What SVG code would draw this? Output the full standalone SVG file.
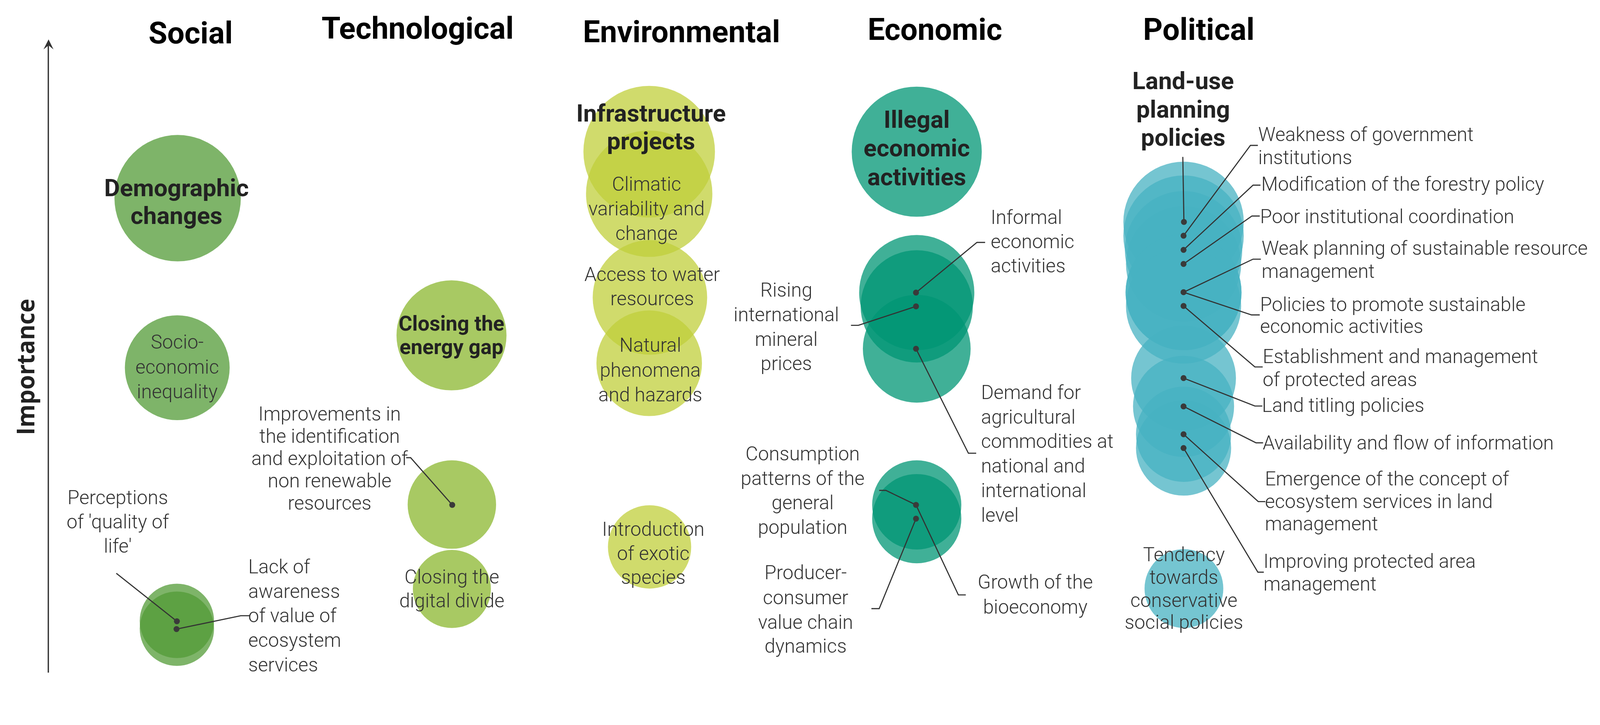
<svg xmlns="http://www.w3.org/2000/svg" width="4308" height="1855" viewBox="0 0 4308 1855">
<style>
.h{font-family:Roboto,"Liberation Sans",sans-serif;font-weight:700;font-size:82px;fill:#000;text-anchor:middle}
.b{font-family:Roboto,"Liberation Sans",sans-serif;font-weight:700;font-size:65px;fill:#222;text-anchor:middle}
.b2{font-size:56px}
.l{font-family:"Roboto Light",Roboto,"Liberation Sans",sans-serif;font-weight:300;font-size:52px;fill:#333}
.m{text-anchor:middle}
.ax{font-family:"Open Sans","DejaVu Sans",sans-serif;font-weight:700;font-size:66px;fill:#222;text-anchor:middle}
.soc{fill:#539b37;fill-opacity:.75}
.tec{fill:#8bb72f;fill-opacity:.75}
.env{fill:#c0cf3b;fill-opacity:.75}
.eco{fill:#009574;fill-opacity:.75}
.pol{fill:#47b2c2;fill-opacity:.75}
.dot{fill:#3a3a3a}
.ln{stroke:#333;stroke-width:3;fill:none}
</style>
<rect width="4308" height="1855" fill="#fff"/>
<g id="diagram" transform="scale(0.9513)">

<g id="axis">
<line x1="130" y1="1809" x2="130" y2="118" stroke="#333" stroke-width="3.5"/>
<path d="M130.7,106 L144,133 L130.7,122 L117,133 Z" fill="#333"/>
<text class="ax" transform="translate(92,987) rotate(-90)" textLength="367" lengthAdjust="spacingAndGlyphs">Importance</text>
</g>

<g id="headings">
<text class="h" x="513" y="117">Social</text>
<text class="h" x="1124" y="104">Technological</text>
<text class="h" x="1834" y="114">Environmental</text>
<text class="h" x="2516" y="107">Economic</text>
<text class="h" x="3226" y="107">Political</text>
</g>

<g id="bubbles">
<circle id="b-demographic" class="soc" cx="478" cy="533" r="170"/>
<circle id="b-socio" class="soc" cx="477" cy="989" r="141"/>
<circle id="b-perceptions" class="soc" cx="476" cy="1670" r="100"/>
<circle id="b-lack" class="soc" cx="476" cy="1691" r="100"/>
<circle id="b-energy" class="tec" cx="1215" cy="902" r="148"/>
<circle id="b-improvements" class="tec" cx="1216" cy="1357" r="119"/>
<circle id="b-digital" class="tec" cx="1216" cy="1584" r="105"/>
<circle id="b-infrastructure" class="env" cx="1747" cy="408" r="177"/>
<circle id="b-climatic" class="env" cx="1747" cy="521" r="170"/>
<circle id="b-access" class="env" cx="1749" cy="800" r="154"/>
<circle id="b-natural" class="env" cx="1747" cy="977" r="142"/>
<circle id="b-exotic" class="env" cx="1748" cy="1471" r="112"/>
<circle id="b-illegal" class="eco" cx="2467" cy="408" r="175"/>
<circle id="b-informal" class="eco" cx="2467" cy="787" r="155"/>
<circle id="b-rising" class="eco" cx="2467" cy="824" r="151"/>
<circle id="b-demand" class="eco" cx="2467" cy="938" r="145"/>
<circle id="b-consumption" class="eco" cx="2467" cy="1358" r="120"/>
<circle id="b-producer" class="eco" cx="2467" cy="1395" r="120"/>
<circle id="b-landuse" class="pol" cx="3185" cy="597" r="162"/>
<circle id="b-weakness" class="pol" cx="3185" cy="634" r="162"/>
<circle id="b-modification" class="pol" cx="3185" cy="672" r="158"/>
<circle id="b-poor" class="pol" cx="3185" cy="710" r="155"/>
<circle id="b-weakplanning" class="pol" cx="3185" cy="786" r="156"/>
<circle id="b-policies" class="pol" cx="3185" cy="786" r="156"/>
<circle id="b-establishment" class="pol" cx="3185" cy="823" r="155"/>
<circle id="b-landtitling" class="pol" cx="3185" cy="1017" r="141"/>
<circle id="b-availability" class="pol" cx="3185" cy="1093" r="136"/>
<circle id="b-emergence" class="pol" cx="3185" cy="1168" r="128"/>
<circle id="b-improving" class="pol" cx="3185" cy="1205" r="128"/>
<circle id="b-tendency" class="pol" cx="3186" cy="1583" r="106"/>
</g>

<g id="connectors">
<polyline class="ln" points="313,1542 476,1671"/>
<polyline class="ln" points="475,1692 648,1656 671,1656"/>
<polyline class="ln" points="1217,1358 1105,1231 1093,1231"/>
<polyline class="ln" points="2465,787 2629,652 2651,652"/>
<polyline class="ln" points="2465,824 2310,875 2290,875"/>
<polyline class="ln" points="2465,938 2606,1219 2627,1219"/>
<polyline class="ln" points="2465,1358 2384,1319 2366,1319"/>
<polyline class="ln" points="2465,1395 2366,1637 2345,1637"/>
<polyline class="ln" points="2465,1358 2579,1600 2599,1600"/>
<polyline class="ln" points="3183,422 3186,597"/>
<polyline class="ln" points="3185,634 3365,391 3385,391"/>
<polyline class="ln" points="3185,672 3372,498 3392,498"/>
<polyline class="ln" points="3185,710 3369,581 3390,581"/>
<polyline class="ln" points="3185,786 3372,697 3393,697"/>
<polyline class="ln" points="3185,786 3368,847 3390,847"/>
<polyline class="ln" points="3185,823 3377,987 3398,987"/>
<polyline class="ln" points="3185,1017 3377,1092 3397,1092"/>
<polyline class="ln" points="3185,1093 3380,1191 3399,1191"/>
<polyline class="ln" points="3185,1168 3386,1349 3405,1349"/>
<polyline class="ln" points="3185,1205 3385,1539 3401,1539"/>
</g>

<g id="nodes">
<g id="n-demographic"><text class="b" x="475" y="528">Demographic</text><text class="b" x="475" y="602">changes</text></g>
<g id="n-socio"><text class="l m" x="477" y="938">Socio-</text><text class="l m" x="477" y="1005">economic</text><text class="l m" x="477" y="1071">inequality</text></g>
<g id="n-perceptions"><circle class="dot" cx="476" cy="1671" r="8"/><text class="l m" x="317" y="1356">Perceptions</text><text class="l m" x="317" y="1421">of 'quality of</text><text class="l m" x="317" y="1486">life'</text></g>
<g id="n-lack"><circle class="dot" cx="475" cy="1692" r="8"/><text class="l" x="668"><tspan x="668" y="1542">Lack of</tspan><tspan x="668" y="1608">awareness</tspan><tspan x="668" y="1674">of value of</tspan><tspan x="668" y="1740">ecosystem</tspan><tspan x="668" y="1806">services</tspan></text></g>

<g id="n-energy"><text class="b b2" x="1215" y="889">Closing the</text><text class="b b2" x="1215" y="952">energy gap</text></g>
<g id="n-improvements"><circle class="dot" cx="1217" cy="1358" r="8"/><text class="l m"><tspan x="887" y="1131">Improvements in</tspan><tspan x="887" y="1191">the identification</tspan><tspan x="887" y="1251">and exploitation of</tspan><tspan x="887" y="1311">non renewable</tspan><tspan x="887" y="1371">resources</tspan></text></g>
<g id="n-digital"><text class="l m"><tspan x="1216" y="1569">Closing the</tspan><tspan x="1216" y="1634">digital divide</tspan></text></g>

<g id="n-infrastructure"><text class="b" x="1752" y="327">Infrastructure</text><text class="b" x="1752" y="402">projects</text></g>
<g id="n-climatic"><text class="l m"><tspan x="1740" y="513">Climatic</tspan><tspan x="1740" y="579">variability and</tspan><tspan x="1740" y="645">change</tspan></text></g>
<g id="n-access"><text class="l m"><tspan x="1755" y="756">Access to water</tspan><tspan x="1755" y="821">resources</tspan></text></g>
<g id="n-natural"><text class="l m"><tspan x="1750" y="946">Natural</tspan><tspan x="1750" y="1013">phenomena</tspan><tspan x="1750" y="1080">and hazards</tspan></text></g>
<g id="n-exotic"><text class="l m"><tspan x="1758" y="1441">Introduction</tspan><tspan x="1758" y="1506">of exotic</tspan><tspan x="1758" y="1571">species</tspan></text></g>

<g id="n-illegal"><text class="b" x="2467" y="344">Illegal</text><text class="b" x="2467" y="421">economic</text><text class="b" x="2467" y="498">activities</text></g>
<g id="n-informal"><circle class="dot" cx="2465" cy="787" r="8"/><text class="l"><tspan x="2666" y="602">Informal</tspan><tspan x="2666" y="667">economic</tspan><tspan x="2666" y="733">activities</tspan></text></g>
<g id="n-rising"><circle class="dot" cx="2465" cy="824" r="8"/><text class="l m"><tspan x="2116" y="798">Rising</tspan><tspan x="2116" y="864">international</tspan><tspan x="2116" y="930">mineral</tspan><tspan x="2116" y="996">prices</tspan></text></g>
<g id="n-demand"><circle class="dot" cx="2465" cy="938" r="8"/><text class="l"><tspan x="2640" y="1073">Demand for</tspan><tspan x="2640" y="1139">agricultural</tspan><tspan x="2640" y="1205">commodities at</tspan><tspan x="2640" y="1271">national and</tspan><tspan x="2640" y="1337">international</tspan><tspan x="2640" y="1403">level</tspan></text></g>
<g id="n-consumption"><circle class="dot" cx="2465" cy="1358" r="8"/><text class="l m"><tspan x="2160" y="1238">Consumption</tspan><tspan x="2160" y="1305">patterns of the</tspan><tspan x="2160" y="1370">general</tspan><tspan x="2160" y="1436">population</tspan></text></g>
<g id="n-producer"><circle class="dot" cx="2465" cy="1395" r="8"/><text class="l m"><tspan x="2168" y="1558">Producer-</tspan><tspan x="2168" y="1625">consumer</tspan><tspan x="2168" y="1691">value chain</tspan><tspan x="2168" y="1755">dynamics</tspan></text></g>
<g id="n-growth"><text class="l m"><tspan x="2786" y="1583">Growth of the</tspan><tspan x="2786" y="1650">bioeconomy</tspan></text></g>

<g id="n-landuse"><circle class="dot" cx="3186" cy="597" r="8"/><text class="b" x="3184" y="240">Land-use</text><text class="b" x="3184" y="316">planning</text><text class="b" x="3184" y="392">policies</text></g>
<g id="n-weakness"><circle class="dot" cx="3185" cy="634" r="8"/><text class="l"><tspan x="3386" y="380">Weakness of government</tspan><tspan x="3386" y="442">institutions</tspan></text></g>
<g id="n-modification"><circle class="dot" cx="3185" cy="672" r="8"/><text class="l" x="3394" y="513">Modification of the forestry policy</text></g>
<g id="n-poor"><circle class="dot" cx="3185" cy="710" r="8"/><text class="l" x="3391" y="600">Poor institutional coordination</text></g>
<g id="n-weakplanning"><circle class="dot" cx="3185" cy="786" r="8"/><text class="l"><tspan x="3395" y="685">Weak planning of sustainable resource</tspan><tspan x="3395" y="747">management</tspan></text></g>
<g id="n-policies"><text class="l"><tspan x="3391" y="837">Policies to promote sustainable</tspan><tspan x="3391" y="896">economic activities</tspan></text></g>
<g id="n-establishment"><circle class="dot" cx="3185" cy="823" r="8"/><text class="l"><tspan x="3398" y="977">Establishment and management</tspan><tspan x="3398" y="1039">of protected areas</tspan></text></g>
<g id="n-landtitling"><circle class="dot" cx="3185" cy="1017" r="8"/><text class="l" x="3396" y="1108">Land titling policies</text></g>
<g id="n-availability"><circle class="dot" cx="3185" cy="1093" r="8"/><text class="l" x="3398" y="1209">Availability and flow of information</text></g>
<g id="n-emergence"><circle class="dot" cx="3185" cy="1168" r="8"/><text class="l"><tspan x="3404" y="1306">Emergence of the concept of</tspan><tspan x="3404" y="1367">ecosystem services in land</tspan><tspan x="3404" y="1426">management</tspan></text></g>
<g id="n-improving"><circle class="dot" cx="3185" cy="1205" r="8"/><text class="l"><tspan x="3400" y="1527">Improving protected area</tspan><tspan x="3400" y="1588">management</tspan></text></g>
<g id="n-tendency"><text class="l m"><tspan x="3186" y="1509">Tendency</tspan><tspan x="3186" y="1571">towards</tspan><tspan x="3186" y="1632">conservative</tspan><tspan x="3186" y="1691">social policies</tspan></text></g>
</g>
</g>
</svg>
